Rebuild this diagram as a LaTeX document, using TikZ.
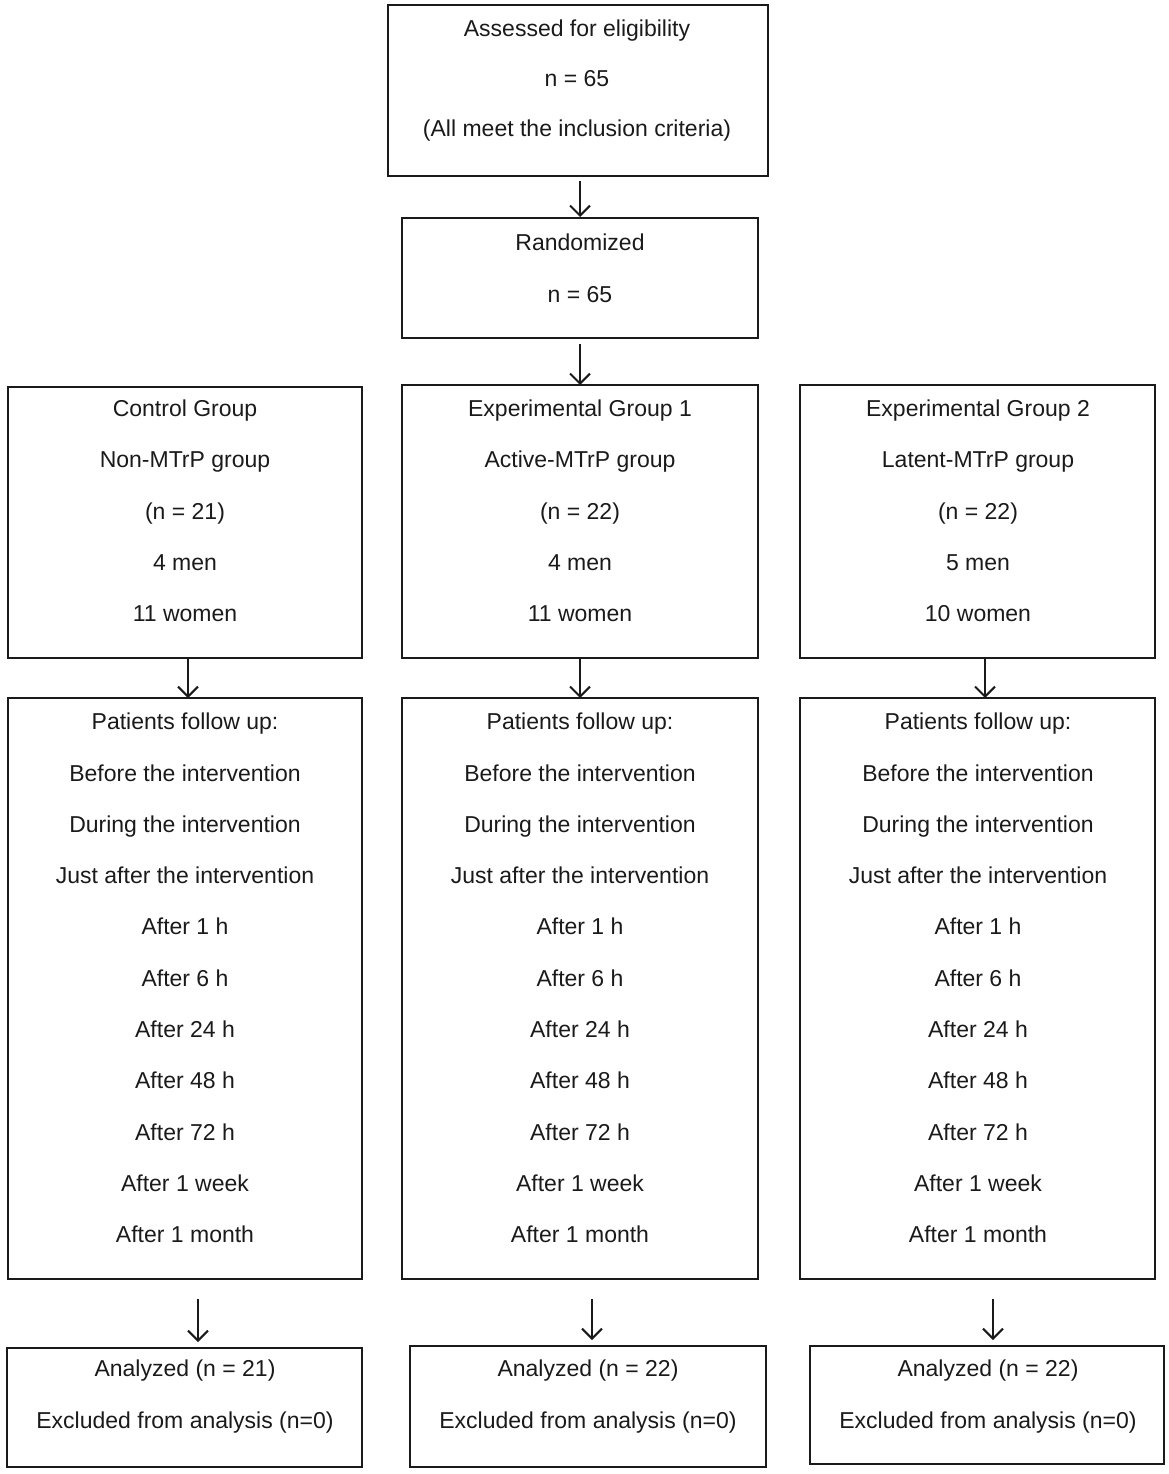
\documentclass[tikz,border=0pt]{standalone}
\usepackage{fontspec}
\setmainfont{Liberation Sans}
\usetikzlibrary{arrows.meta}
\definecolor{ink}{HTML}{1A1A1A}
\begin{document}
\begin{tikzpicture}[x=1pt,y=-1pt,
  box/.style={draw=ink, line width=2.4pt, inner sep=0pt, outer sep=0pt, rectangle},
  txt/.style={align=center, text=ink, inner sep=0pt, font=\fontsize{23}{51.3}\selectfont},
  arr/.style={draw=ink, line width=2pt, -{Straight Barb[length=10pt,width=20pt,line width=2pt]}}]
\useasboundingbox (0,0) rectangle (1169,1474);
% boxes
\node[box, minimum width=380pt, minimum height=171pt] (A) at (578,90.5) {};
\node[box, minimum width=356pt, minimum height=120pt] (R) at (580,278) {};
\node[box, minimum width=354pt, minimum height=271pt] (G1) at (185,522.5) {};
\node[box, minimum width=356pt, minimum height=273pt] (G2) at (580,521.5) {};
\node[box, minimum width=355pt, minimum height=273pt] (G3) at (977.5,521.5) {};
\node[box, minimum width=354pt, minimum height=581pt] (F1) at (185,988.5) {};
\node[box, minimum width=356pt, minimum height=581pt] (F2) at (580,988.5) {};
\node[box, minimum width=355pt, minimum height=581pt] (F3) at (977.5,988.5) {};
\node[box, minimum width=355pt, minimum height=119pt] (N1) at (184.5,1407.5) {};
\node[box, minimum width=356pt, minimum height=121pt] (N2) at (588,1406.5) {};
\node[box, minimum width=354pt, minimum height=118pt] (N3) at (987,1405) {};
% texts
\node[txt, font=\fontsize{23}{50}\selectfont] (tA) at (577,81) {Assessed for eligibility\\ n = 65\\ (All meet the inclusion criteria)};
\node[txt, font=\fontsize{23}{52}\selectfont] (tR) at (580,268) {Randomized\\ n = 65};
\node[txt] (tG1) at (185,511) {Control Group\\ Non-MTrP group\\ (n = 21)\\ 4 men\\ 11 women};
\node[txt] (tG2) at (580,511) {Experimental Group 1\\ Active-MTrP group\\ (n = 22)\\ 4 men\\ 11 women};
\node[txt] (tG3) at (978,511) {Experimental Group 2\\ Latent-MTrP group\\ (n = 22)\\ 5 men\\ 10 women};
\newcommand{\followtext}{Patients follow up:\\ Before the intervention\\ During the intervention\\ Just after the intervention\\ After 1 h\\ After 6 h\\ After 24 h\\ After 48 h\\ After 72 h\\ After 1 week\\ After 1 month}
\node[txt] (tF1) at (185,978) {\followtext};
\node[txt] (tF2) at (580,978) {\followtext};
\node[txt] (tF3) at (978,978) {\followtext};
\node[txt] (tN1) at (185,1396.5) {Analyzed (n = 21)\\ Excluded from analysis (n=0)};
\node[txt] (tN2) at (588,1396.5) {Analyzed (n = 22)\\ Excluded from analysis (n=0)};
\node[txt] (tN3) at (988,1396.5) {Analyzed (n = 22)\\ Excluded from analysis (n=0)};
% arrows
\draw[arr, shorten <=5pt, shorten >=1pt] ([xshift=2pt]A.south) -- ([xshift=2pt]A.south |- R.north);
\draw[arr, shorten <=6pt] (R.south) -- (G2.north);
\draw[arr] ([xshift=3pt]G1.south) -- ([xshift=3pt]G1.south |- F1.north);
\draw[arr] (G2.south) -- (F2.north);
\draw[arr] ([xshift=7.5pt]G3.south) -- ([xshift=7.5pt]G3.south |- F3.north);
\draw[arr, shorten <=20pt, shorten >=6pt] ([xshift=13pt]F1.south) -- ([xshift=13pt]F1.south |- N1.north);
\draw[arr, shorten <=20pt, shorten >=6pt] ([xshift=12pt]F2.south) -- ([xshift=12pt]F2.south |- N2.north);
\draw[arr, shorten <=20pt, shorten >=6pt] ([xshift=15.5pt]F3.south) -- ([xshift=15.5pt]F3.south |- N3.north);
\end{tikzpicture}
\end{document}
